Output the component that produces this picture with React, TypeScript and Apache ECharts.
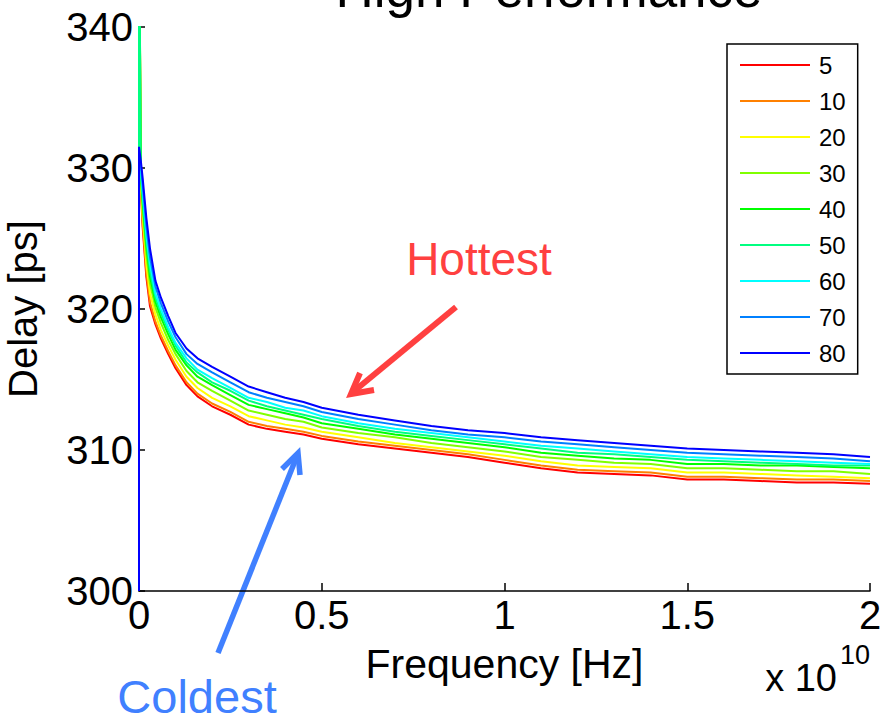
import React, { useEffect, useRef } from "react";
import * as echarts from "echarts";

// Frequency in units of 1e10 Hz
const freqE10 = [0, 0, 0.005, 0.01, 0.02, 0.03, 0.045, 0.06, 0.08, 0.1, 0.13, 0.16, 0.2, 0.25, 0.3, 0.35, 0.4, 0.45, 0.5, 0.6, 0.7, 0.8, 0.9, 1.0, 1.1, 1.2, 1.3, 1.4, 1.5, 1.6, 1.7, 1.8, 1.9, 2.0];

const temps = ["5", "10", "20", "30", "40", "50", "60", "70", "80"];
const colors = ["#ff0000", "#ff8000", "#ffff00", "#80ff00", "#00ff00", "#00ff80", "#00ffff", "#0080ff", "#0000ff"];

const delay5 = [300, 350, 328.5, 325.8, 322.3, 320.2, 318.9, 317.9, 316.8, 315.8, 314.6, 313.8, 313.1, 312.5, 311.8, 311.5, 311.3, 311.1, 310.8, 310.4, 310.1, 309.8, 309.5, 309.1, 308.7, 308.4, 308.3, 308.2, 307.9, 307.9, 307.8, 307.7, 307.7, 307.6];
const delay10 = [300, 350, 328.7, 326.1, 322.6, 320.5, 319.1, 318.1, 317.0, 316.0, 314.8, 314.0, 313.3, 312.7, 312.0, 311.7, 311.5, 311.3, 311.0, 310.6, 310.3, 310.0, 309.7, 309.3, 308.9, 308.6, 308.5, 308.4, 308.1, 308.1, 308.0, 307.9, 307.9, 307.8];
const delay20 = [300, 350, 328.9, 326.6, 323.2, 321.1, 319.6, 318.5, 317.4, 316.4, 315.2, 314.4, 313.7, 313.1, 312.4, 312.1, 311.8, 311.6, 311.3, 310.9, 310.5, 310.2, 309.9, 309.6, 309.2, 308.9, 308.8, 308.7, 308.4, 308.4, 308.3, 308.2, 308.1, 308.0];
const delay30 = [300, 350, 329.3, 327.1, 323.9, 321.8, 320.1, 319.0, 317.8, 316.8, 315.6, 314.8, 314.2, 313.5, 312.8, 312.5, 312.2, 312.0, 311.6, 311.2, 310.9, 310.5, 310.2, 309.9, 309.5, 309.3, 309.1, 309.0, 308.7, 308.7, 308.6, 308.5, 308.5, 308.3];
const delay40 = [300, 350, 329.5, 327.6, 324.5, 322.3, 320.5, 319.4, 318.2, 317.1, 316.0, 315.2, 314.6, 313.9, 313.2, 312.9, 312.6, 312.3, 311.9, 311.5, 311.1, 310.8, 310.5, 310.2, 309.8, 309.6, 309.4, 309.3, 309.0, 309.0, 308.9, 308.9, 308.8, 308.7];
const delay50 = [300, 350, 329.7, 328.0, 324.9, 322.7, 320.8, 319.7, 318.5, 317.4, 316.2, 315.5, 314.8, 314.2, 313.5, 313.1, 312.8, 312.5, 312.2, 311.7, 311.3, 311.0, 310.7, 310.4, 310.1, 309.8, 309.7, 309.5, 309.3, 309.2, 309.1, 309.0, 308.9, 308.9];
const delay60 = [300, 330.5, 329.9, 328.3, 325.3, 323.2, 321.1, 320.0, 318.7, 317.6, 316.5, 315.7, 315.1, 314.4, 313.7, 313.4, 313.0, 312.8, 312.4, 311.9, 311.5, 311.2, 310.9, 310.6, 310.3, 310.1, 309.9, 309.7, 309.5, 309.4, 309.3, 309.2, 309.1, 309.0];
const delay70 = [300, 331.0, 330.2, 328.8, 325.9, 323.7, 321.6, 320.4, 319.1, 318.0, 316.8, 316.1, 315.5, 314.8, 314.1, 313.7, 313.4, 313.1, 312.7, 312.2, 311.8, 311.4, 311.1, 310.9, 310.6, 310.4, 310.2, 310.0, 309.8, 309.7, 309.6, 309.5, 309.4, 309.2];
const delay80 = [300, 331.5, 330.5, 329.3, 326.5, 324.3, 322.0, 320.8, 319.5, 318.3, 317.2, 316.5, 315.9, 315.2, 314.5, 314.1, 313.7, 313.4, 313.0, 312.5, 312.1, 311.7, 311.4, 311.2, 310.9, 310.7, 310.5, 310.3, 310.1, 310.0, 309.9, 309.8, 309.7, 309.5];

const delays = [delay5, delay10, delay20, delay30, delay40, delay50, delay60, delay70, delay80];

const xTicks = { min: 0, max: 2, interval: 0.5 };
const yTicks = { min: 300, max: 340, interval: 10 };

const FONT = "'Liberation Sans', Arial, Helvetica, sans-serif";

export default function App() {
  const ref = useRef<HTMLDivElement>(null);
  useEffect(() => {
    if (!ref.current) return;
    const chart = echarts.init(ref.current, null, { renderer: "svg" });
    const series = temps.map((t, i) => ({
      name: t,
      type: "line",
      data: freqE10.map((f, k) => [f, delays[i][k]]),
      showSymbol: false,
      symbol: "none",
      clip: true,
      lineStyle: { color: colors[i], width: 2 },
      itemStyle: { color: colors[i] },
      z: 2,
    }));
    const red = "#ff4040";
    const blue = "#4080ff";
    chart.setOption({
      animation: false,
      backgroundColor: "#ffffff",
      textStyle: { fontFamily: FONT },
      grid: { left: 139, right: 17, top: 27, bottom: 130, containLabel: false, outerBoundsMode: "none" },
      xAxis: {
        type: "value",
        min: xTicks.min,
        max: xTicks.max,
        interval: xTicks.interval,
        name: "Frequency [Hz]",
        nameLocation: "middle",
        nameGap: 52,
        nameTextStyle: { fontSize: 41, color: "#000", fontFamily: FONT },
        axisLine: { lineStyle: { color: "#000", width: 1.5 } },
        axisTick: { inside: true, length: 8, lineStyle: { color: "#000", width: 1.5 } },
        axisLabel: { fontSize: 40, color: "#000", margin: 4, fontFamily: FONT },
        splitLine: { show: false },
      },
      yAxis: {
        type: "value",
        min: yTicks.min,
        max: yTicks.max,
        interval: yTicks.interval,
        name: "Delay [ps]",
        nameLocation: "middle",
        nameGap: 96,
        nameRotate: 90,
        nameTextStyle: { fontSize: 40, color: "#000", fontFamily: FONT },
        axisLine: { lineStyle: { color: "#000", width: 1.5 } },
        axisTick: { inside: true, length: 6, lineStyle: { color: "#000", width: 1.5 } },
        axisLabel: { fontSize: 40, color: "#000", margin: 6, fontFamily: FONT },
        splitLine: { show: false },
      },
      legend: {
        orient: "vertical",
        left: 727,
        top: 44,
        data: temps,
        icon: "rect",
        itemWidth: 70,
        itemHeight: 2,
        itemGap: 12,
        padding: [9, 12, 9, 13],
        borderColor: "#000",
        borderWidth: 1.5,
        backgroundColor: "#fff",
        textStyle: { fontSize: 24, color: "#000", fontFamily: FONT, padding: [0, 0, 0, 4] },
      },
      graphic: [
        {
          type: "text",
          x: 549,
          y: -12,
          style: { text: "High Performance", fontSize: 53, fill: "#000", font: `53px ${FONT}`, align: "center", verticalAlign: "middle" },
        },
        {
          type: "text",
          x: 479,
          y: 259,
          style: { text: "Hottest", fontSize: 46, fill: red, font: `46px ${FONT}`, align: "center", verticalAlign: "middle" },
        },
        { type: "line", shape: { x1: 456, y1: 307, x2: 353, y2: 392 }, style: { stroke: red, lineWidth: 6 } },
        {
          type: "polyline",
          shape: { points: [[360, 373], [351, 394], [374, 390]] },
          style: { stroke: red, lineWidth: 6, fill: null, lineJoin: "miter" },
        },
        {
          type: "text",
          x: 197,
          y: 696,
          style: { text: "Coldest", fontSize: 47, fill: blue, font: `47px ${FONT}`, align: "center", verticalAlign: "middle" },
        },
        { type: "line", shape: { x1: 218, y1: 653, x2: 297, y2: 456 }, style: { stroke: blue, lineWidth: 5.5 } },
        {
          type: "polyline",
          shape: { points: [[282, 469], [298, 453], [300, 475]] },
          style: { stroke: blue, lineWidth: 5.5, fill: null, lineJoin: "miter" },
        },
        {
          type: "text",
          x: 837,
          y: 678,
          style: { text: "x 10", fontSize: 38, fill: "#000", font: `38px ${FONT}`, align: "right", verticalAlign: "middle" },
        },
        {
          type: "text",
          x: 840,
          y: 655,
          style: { text: "10", fontSize: 27, fill: "#000", font: `27px ${FONT}`, align: "left", verticalAlign: "middle" },
        },
      ],
      series,
    });
    return () => chart.dispose();
  }, []);
  return <div ref={ref} style={{ position: "fixed", left: 0, top: 0, width: 887, height: 721, background: "#fff" }} />;
}
